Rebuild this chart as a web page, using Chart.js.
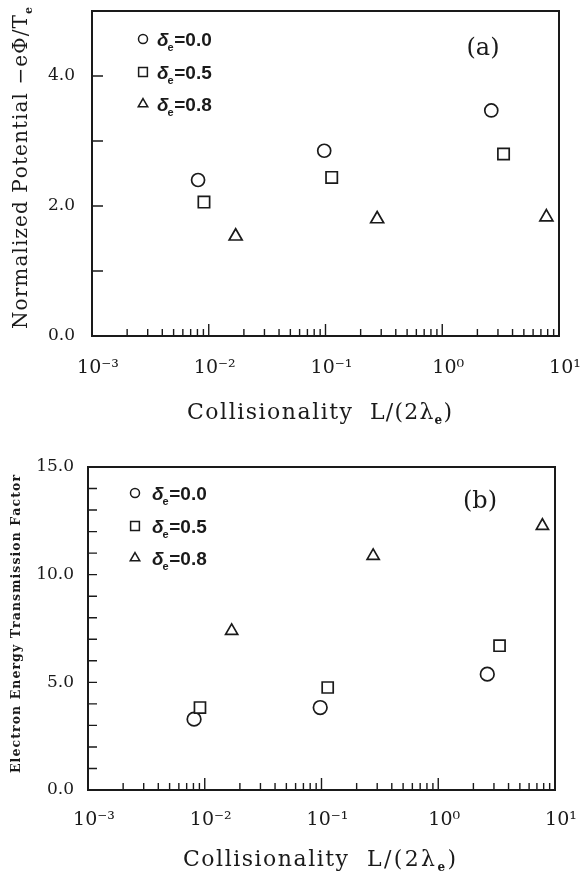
<!DOCTYPE html>
<html><head><meta charset="utf-8">
<script src="https://cdn.jsdelivr.net/npm/chart.js@4.4.1/dist/chart.umd.min.js"></script>
<style>html,body{margin:0;padding:0;background:#fff;}canvas{display:block;}</style>
</head><body>
<canvas id="ca" width="581" height="436"></canvas>
<canvas id="cb" width="581" height="435"></canvas>
<script>
// ---------- data ----------
const deltaLabels = ['0.0', '0.5', '0.8'];
const collisionality0 = [0.0081, 0.0975, 2.63];
const collisionality5 = [0.0091, 0.113, 3.35];
const collisionality8 = [0.0170, 0.277, 7.8];
const potential0 = [2.40, 2.85, 3.47];
const potential5 = [2.06, 2.44, 2.80];
const potential8 = [1.535, 1.80, 1.83];
const transmission0 = [3.29, 3.83, 5.38];
const transmission5 = [3.83, 4.76, 6.70];
const transmission8 = [7.39, 10.87, 12.27];
const xDecades = [-3, -2, -1, 0, 1];
const xMinorMantissas = [2, 3, 4, 5, 6, 7, 8, 9];
const supers = {'-3': '⁻³', '-2': '⁻²', '-1': '⁻¹', '0': '⁰', '1': '¹'};
const potentialTicks = [0, 1, 2, 3, 4, 5];
const potentialLabelled = [0, 2, 4];
const transmissionTicks = [0,1,2,3,4,5,6,7,8,9,10,11,12,13,14,15];
const transmissionLabelled = [0, 5, 10, 15];

const INK = '#1a1a1a';

const xTicks = [];
xDecades.forEach((d, i) => {
  xTicks.push(Math.pow(10, d));
  if (i < xDecades.length - 1) xMinorMantissas.forEach(m => xTicks.push(m * Math.pow(10, d)));
});

function pts(xs, ys) { return xs.map((x, i) => ({x: x, y: ys[i]})); }
function isDecade(v) { const l = Math.log10(v); return Math.abs(l - Math.round(l)) < 1e-6; }

function spacedWidth(ctx, segs) {
  let w = 0, n = 0;
  segs.forEach(s => { ctx.font = s.font; for (const ch of s.text) { w += ctx.measureText(ch).width; n++; } });
  return {w, n};
}
function drawFitted(ctx, segs, x, y, target) {
  const m = spacedWidth(ctx, segs);
  const sp = m.n > 1 ? (target - m.w) / (m.n - 1) : 0;
  let cx = x;
  segs.forEach(s => {
    ctx.font = s.font;
    for (const ch of s.text) {
      ctx.fillText(ch, cx, y + (s.dy || 0));
      cx += ctx.measureText(ch).width + sp;
    }
  });
}

function drawGlyph(ctx, style, x, y, r) {
  ctx.beginPath();
  if (style === 'circle') {
    ctx.arc(x, y, r, 0, Math.PI * 2);
  } else if (style === 'rect') {
    const s = r * Math.SQRT1_2;
    ctx.rect(x - s, y - s, 2 * s, 2 * s);
  } else {
    ctx.moveTo(x, y - r);
    ctx.lineTo(x + r * Math.sin(Math.PI * 2 / 3), y - r * Math.cos(Math.PI * 2 / 3));
    ctx.lineTo(x + r * Math.sin(Math.PI * 4 / 3), y - r * Math.cos(Math.PI * 4 / 3));
    ctx.closePath();
  }
  ctx.fillStyle = '#fff';
  ctx.fill();
  ctx.stroke();
}

function makeDecor(cfg) {
  return {
    id: 'decor',
    afterDraw(chart) {
      const ctx = chart.ctx, a = chart.chartArea;
      const xs = chart.scales.x, ys = chart.scales.y;
      ctx.save();
      ctx.strokeStyle = INK;
      ctx.lineWidth = 1.4;
      ctx.beginPath();
      xs.ticks.forEach(t => {
        const px = xs.getPixelForValue(t.value);
        if (px < a.left + 1 || px > a.right - 1) return;
        const len = isDecade(t.value) ? cfg.xMajor : cfg.xMinor;
        ctx.moveTo(px, a.bottom);
        ctx.lineTo(px, a.bottom - len);
      });
      ys.ticks.forEach(t => {
        const py = ys.getPixelForValue(t.value);
        if (py > a.bottom - 1 || py < a.top + 1) return;
        ctx.moveTo(a.left, py);
        ctx.lineTo(a.left + cfg.yLen, py);
      });
      ctx.stroke();
      ctx.lineWidth = 2;
      ctx.strokeRect(a.left, a.top, a.right - a.left, a.bottom - a.top);

      // legend
      ctx.lineWidth = 1.5;
      chart.data.datasets.forEach((ds, i) => {
        const ly = cfg.legendY[i];
        drawGlyph(ctx, ds.pointStyle, cfg.legendX, ly, cfg.legendR[i]);
        ctx.fillStyle = INK;
        ctx.textBaseline = 'alphabetic';
        ctx.textAlign = 'left';
        const base = ly + 7;
        let tx = cfg.legendTextX;
        ctx.font = 'italic bold 19px "Liberation Sans"';
        ctx.fillText('δ', tx, base);
        tx += ctx.measureText('δ').width - 1;
        ctx.font = 'bold 11px "Liberation Sans"';
        ctx.fillText('e', tx, base + 5);
        tx += ctx.measureText('e').width + 0.5;
        ctx.font = 'bold 19px "Liberation Sans"';
        ctx.fillText('=' + deltaLabels[i], tx, base);
      });

      // panel tag
      ctx.fillStyle = INK;
      ctx.font = '24px "DejaVu Serif"';
      ctx.textAlign = 'center';
      ctx.textBaseline = 'middle';
      ctx.fillText(cfg.tag, cfg.tagX, cfg.tagY);

      // x title
      ctx.textAlign = 'left';
      ctx.textBaseline = 'alphabetic';
      const f = '22px "DejaVu Serif"';
      drawFitted(ctx, [{text: 'Collisionality', font: f}], cfg.xt1[0], cfg.xtBase, cfg.xt1[1] - cfg.xt1[0]);
      drawFitted(ctx, [{text: 'L/(2λ', font: f}, {text: 'e', font: 'bold 12px "DejaVu Serif"', dy: 5}, {text: ')', font: f}],
                 cfg.xt2[0], cfg.xtBase, cfg.xt2[1] - cfg.xt2[0]);

      // y title
      ctx.save();
      ctx.translate(cfg.ytBaseX, cfg.ytStart);
      ctx.rotate(-Math.PI / 2);
      drawFitted(ctx, cfg.ytSegs, 0, 0, cfg.ytLen);
      ctx.restore();
      ctx.restore();
    }
  };
}

function makeChart(id, cfg) {
  const ds = [
    {label: 'δe=0.0', data: pts(collisionality0, cfg.y0), pointStyle: 'circle', pointRadius: cfg.r[0], order: 3},
    {label: 'δe=0.5', data: pts(collisionality5, cfg.y5), pointStyle: 'rect', pointRadius: cfg.r[1], order: 2},
    {label: 'δe=0.8', data: pts(collisionality8, cfg.y8), pointStyle: 'triangle', pointRadius: cfg.r[2], order: 1}
  ].map(d => Object.assign(d, {pointBorderColor: INK, pointBackgroundColor: '#fff', pointBorderWidth: 1.7, showLine: false}));
  return new Chart(document.getElementById(id), {
    type: 'scatter',
    data: {datasets: ds},
    options: {
      responsive: false, animation: false, devicePixelRatio: 1,
      layout: {padding: {top: cfg.top, right: cfg.right, left: 0, bottom: 0}},
      plugins: {legend: {display: false}, tooltip: {enabled: false}},
      scales: {
        x: {
          type: 'logarithmic', min: 1e-3, max: 10,
          grid: {display: false, drawTicks: false}, border: {display: false},
          afterBuildTicks: s => { s.ticks = xTicks.map(v => ({value: v, major: isDecade(v)})); },
          ticks: {
            autoSkip: false, maxRotation: 0, minRotation: 0, padding: cfg.xPad, labelOffset: 6,
            color: INK, font: {family: 'DejaVu Serif', size: 19},
            callback: v => isDecade(v) ? '10' + supers[String(Math.round(Math.log10(v)))] : ''
          },
          afterFit: s => { s.height = cfg.xHeight; s.paddingLeft = 0; s.paddingRight = 0; s.paddingTop = 0; s.paddingBottom = 0; }
        },
        y: {
          min: 0, max: cfg.yMax,
          grid: {display: false, drawTicks: false}, border: {display: false},
          afterBuildTicks: s => { s.ticks = cfg.yTicks.map(v => ({value: v})); },
          ticks: {
            autoSkip: false,
            padding: cfg.yPad, color: INK, font: {family: 'DejaVu Serif', size: 17},
            callback: v => cfg.yLab.includes(v) ? v.toFixed(1) : ''
          },
          afterFit: s => { s.width = cfg.yWidth; s.paddingLeft = 0; s.paddingRight = 0; s.paddingTop = 0; s.paddingBottom = 0; }
        }
      }
    },
    plugins: [makeDecor(cfg)]
  });
}

makeChart('ca', {
  y0: potential0, y5: potential5, y8: potential8, r: [6.5, 8, 7.5],
  top: 11, right: 22, xHeight: 100, yWidth: 92, yMax: 5,
  yTicks: potentialTicks, yLab: potentialLabelled, xPad: 21, yPad: 17,
  xMajor: 12, xMinor: 7, yLen: 11,
  legendX: 143, legendY: [39, 72, 104], legendR: [4.5, 6.2, 5.5], legendTextX: 157,
  tag: '(a)', tagX: 483, tagY: 49,
  xt1: [187, 352], xt2: [370, 452], xtBase: 419,
  ytBaseX: 27, ytStart: 329, ytLen: 322,
  ytSegs: [{text: 'Normalized Potential −eΦ/T', font: '20px "DejaVu Serif"'}, {text: 'e', font: 'bold 11px "DejaVu Serif"', dy: 5}]
});

makeChart('cb', {
  y0: transmission0, y5: transmission5, y8: transmission8, r: [6.8, 7.8, 7],
  top: 31, right: 26, xHeight: 81, yWidth: 88, yMax: 15,
  yTicks: transmissionTicks, yLab: transmissionLabelled, xPad: 19, yPad: 14,
  xMajor: 12, xMinor: 7, yLen: 9,
  legendX: 135, legendY: [57, 90, 122], legendR: [4.5, 6.2, 5.5], legendTextX: 152,
  tag: '(b)', tagX: 480, tagY: 66,
  xt1: [183, 348], xt2: [367, 456], xtBase: 430,
  ytBaseX: 20, ytStart: 337, ytLen: 298,
  ytSegs: [{text: 'Electron Energy Transmission Factor', font: 'bold 12.5px "DejaVu Serif"'}]
});
</script>
</body></html>
